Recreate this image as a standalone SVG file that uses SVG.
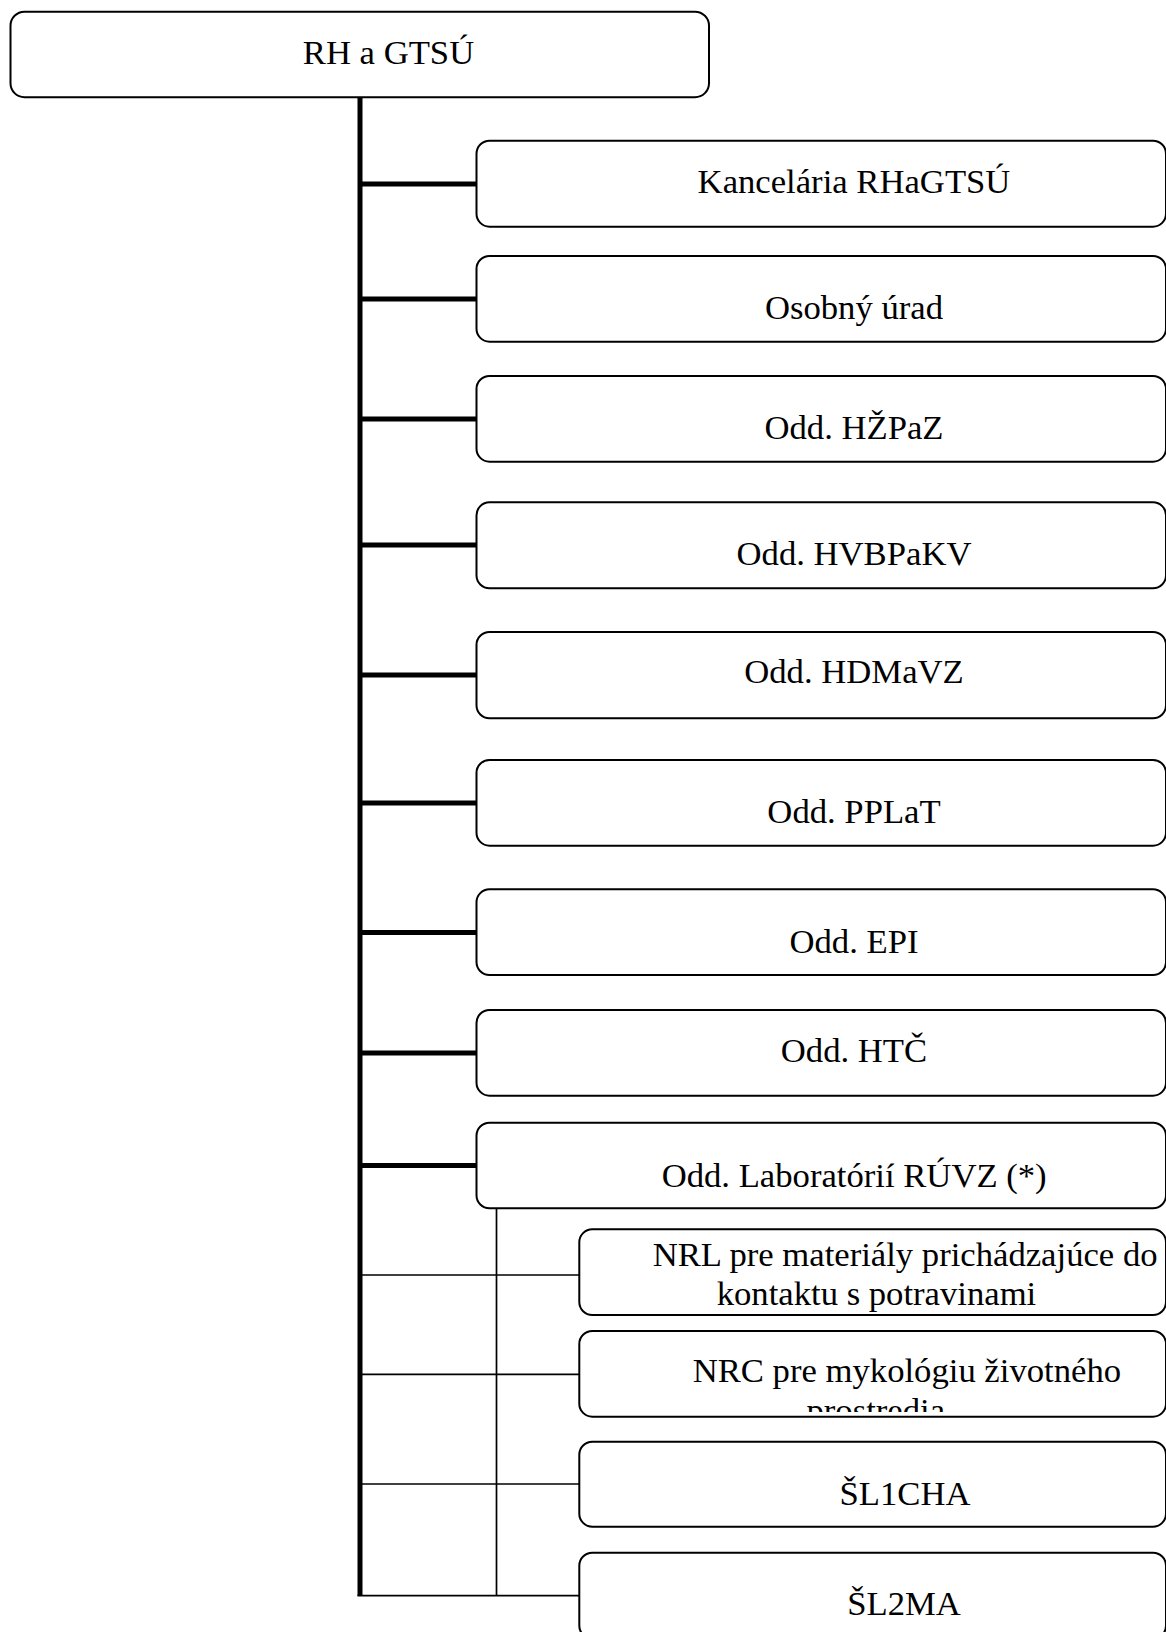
<svg xmlns="http://www.w3.org/2000/svg" width="1166" height="1632" viewBox="0 0 1166 1632">
<style>
.box{fill:#fff;stroke:#000;stroke-width:2}
.t{font-family:"Liberation Serif","Times New Roman",serif;font-size:34.67px;fill:#000}
.m{text-anchor:middle}
.thick{stroke:#000;stroke-width:5;fill:none}
.thin{stroke:#000;stroke-width:1.7;fill:none}
</style>
<defs>
<clipPath id="clipNRC"><rect x="580" y="1332" width="586" height="80"/></clipPath>
</defs>
<rect width="1166" height="1632" fill="#fff"/>
<g id="connectors">
<line class="thick" x1="360" y1="97" x2="360" y2="1596"/>
<line class="thick" x1="360" y1="184" x2="477" y2="184"/>
<line class="thick" x1="360" y1="299" x2="477" y2="299"/>
<line class="thick" x1="360" y1="419" x2="477" y2="419"/>
<line class="thick" x1="360" y1="545" x2="477" y2="545"/>
<line class="thick" x1="360" y1="675" x2="477" y2="675"/>
<line class="thick" x1="360" y1="803" x2="477" y2="803"/>
<line class="thick" x1="360" y1="932.5" x2="477" y2="932.5"/>
<line class="thick" x1="360" y1="1053" x2="477" y2="1053"/>
<line class="thick" x1="360" y1="1165.5" x2="477" y2="1165.5"/>
<line class="thin" x1="496.5" y1="1208" x2="496.5" y2="1596"/>
<line class="thin" x1="360" y1="1275" x2="580" y2="1275"/>
<line class="thin" x1="360" y1="1374.3" x2="580" y2="1374.3"/>
<line class="thin" x1="360" y1="1484" x2="580" y2="1484"/>
<line class="thin" x1="357.5" y1="1595.7" x2="580" y2="1595.7"/>
</g>
<g id="n-root">
<rect class="box" x="10.5" y="11.7" width="698.5" height="85.5" rx="14"/>
<text class="t m" x="388.5" y="63.5">RH a GTSÚ</text>
</g>
<g id="n-kancelaria">
<rect class="box" x="476.5" y="140.7" width="689.5" height="86" rx="13"/>
<text class="t m" x="854" y="193.3">Kancelária RHaGTSÚ</text>
</g>
<g id="n-osobny">
<rect class="box" x="476.5" y="256" width="689.5" height="85.7" rx="13"/>
<text class="t m" x="854" y="319.3">Osobný úrad</text>
</g>
<g id="n-hzpaz">
<rect class="box" x="476.5" y="376" width="689.5" height="85.7" rx="13"/>
<text class="t m" x="854" y="439.3">Odd. HŽPaZ</text>
</g>
<g id="n-hvbpakv">
<rect class="box" x="476.5" y="502.3" width="689.5" height="86" rx="13"/>
<text class="t m" x="854" y="565">Odd. HVBPaKV</text>
</g>
<g id="n-hdmavz">
<rect class="box" x="476.5" y="632" width="689.5" height="86.3" rx="13"/>
<text class="t m" x="854" y="683.3">Odd. HDMaVZ</text>
</g>
<g id="n-pplat">
<rect class="box" x="476.5" y="760" width="689.5" height="85.7" rx="13"/>
<text class="t m" x="854" y="823.3">Odd. PPLaT</text>
</g>
<g id="n-epi">
<rect class="box" x="476.5" y="889.3" width="689.5" height="85.7" rx="13"/>
<text class="t m" x="854" y="953.3">Odd. EPI</text>
</g>
<g id="n-htc">
<rect class="box" x="476.5" y="1010" width="689.5" height="85.7" rx="13"/>
<text class="t m" x="854" y="1061.7">Odd. HTČ</text>
</g>
<g id="n-lab">
<rect class="box" x="476.5" y="1122.7" width="689.5" height="85.6" rx="13"/>
<text class="t" x="661.7" y="1186.7">Odd. Laboratórií RÚVZ (*)</text>
</g>
<g id="n-nrl">
<rect class="box" x="579.3" y="1229.3" width="586.7" height="85.7" rx="13"/>
<text class="t" x="652.7" y="1265.5">NRL pre materiály prichádzajúce do</text>
<text class="t" x="716.7" y="1305">kontaktu s potravinami</text>
</g>
<g id="n-nrc">
<rect class="box" x="579.3" y="1331" width="586.7" height="85.7" rx="13"/>
<g clip-path="url(#clipNRC)">
<text class="t" x="692.7" y="1382">NRC pre mykológiu životného</text>
<text class="t" x="806.5" y="1421.5">prostredia</text>
</g>
</g>
<g id="n-sl1cha">
<rect class="box" x="579.3" y="1441.7" width="586.7" height="85" rx="13"/>
<text class="t m" x="905" y="1505">ŠL1CHA</text>
</g>
<g id="n-sl2ma">
<rect class="box" x="579.3" y="1552.7" width="586.7" height="86" rx="13"/>
<text class="t m" x="904" y="1615">ŠL2MA</text>
</g>
</svg>
